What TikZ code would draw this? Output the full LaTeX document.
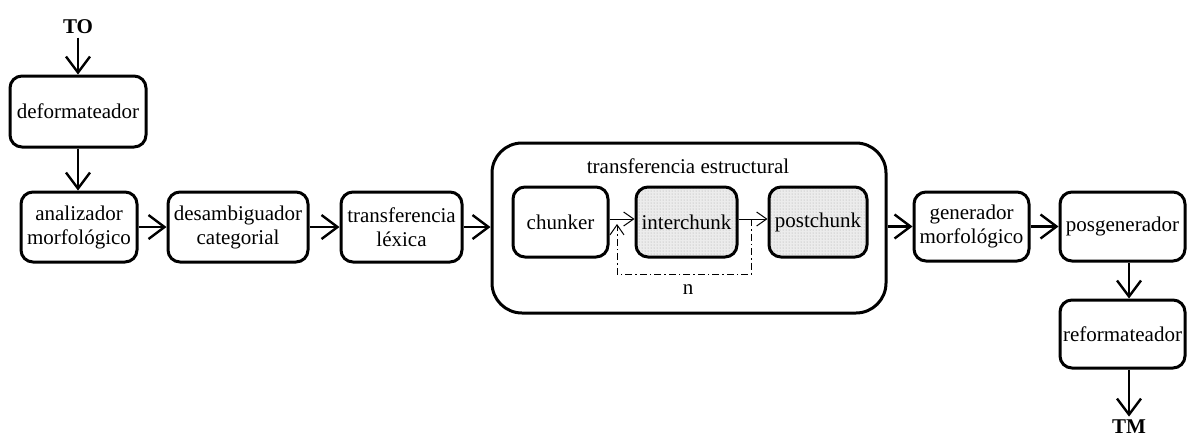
\documentclass[tikz,border=0pt]{standalone}
\usepackage{fontspec}
\setmainfont{Liberation Serif}
\usetikzlibrary{arrows.meta,positioning,patterns}

\begin{document}
\begin{tikzpicture}[
  x=1pt, y=-1pt,
  font=\fontsize{21}{24}\selectfont,
  stage/.style={draw, line width=3pt, rounded corners=12pt, align=center,
                inner sep=2pt, minimum height=70pt},
  shaded/.style={stage, preaction={fill=gray!15}, pattern=dots, pattern color=gray!70},
  arr/.style={-{Straight Barb[length=16pt,width=24pt]}, line width=2.4pt},
  flow/.style={-{Straight Barb[length=10pt,width=14pt]}, line width=1pt},
]
\useasboundingbox (0,0) rectangle (1190,437);

\node[font=\fontsize{21}{24}\selectfont\bfseries] (to) at (78,27) {TO};
\node[stage, minimum width=136pt, minimum height=71pt] (deform) at (78,111.5) {deformateador};
\node[stage, minimum width=116pt] (anal) at (79,227) {analizador\\morfológico};
\node[stage, minimum width=140pt] (desamb) at (238,227) {desambiguador\\categorial};
\node[stage, minimum width=121pt] (lex) at (401.5,227) {transferencia\\léxica};

% structural transfer block
\node[stage, rounded corners=30pt, minimum width=394pt, minimum height=170pt] (estruct) at (689,228) {};
\node (titulo) at (688,166) {transferencia estructural};
\node[stage, minimum width=95pt] (chunker) at (560.5,222) {chunker};
\node[shaded, minimum width=101pt] (inter) at (686.5,222) {interchunk};
\node[shaded, minimum width=98pt] (post) at (818,222) {postchunk};
\node (n) at (688,290) {n};

\node[stage, minimum width=115pt, minimum height=69pt] (gen) at (971.5,226.5) {generador\\morfológico};
\node[stage, minimum width=125pt, minimum height=69pt] (posgen) at (1122.5,226.5) {posgenerador};
\node[stage, minimum width=125pt, minimum height=68pt] (reform) at (1122.5,334) {reformateador};
\node[font=\fontsize{21}{24}\selectfont\bfseries] (tm) at (1129,427) {TM};

\draw[arr] (to) -- (deform.north -| to);
\draw[arr] (deform) -- (deform.south |- anal.north);
\draw[arr] (anal) -- (desamb);
\draw[arr] (desamb) -- (lex);
\draw[arr] (lex) -- (lex.east -| estruct.west);
\draw[arr] (estruct.east |- gen) -- (gen);
\draw[arr] (gen) -- (posgen);
\draw[arr] (posgen.south -| tm) -- (reform.north -| tm);
\draw[arr] (reform.south -| tm) -- (tm);

\draw[flow] ([yshift=3pt]chunker.east) -- ([yshift=3pt]inter.west);
\draw[flow] ([yshift=3pt]inter.east) -- ([yshift=3pt]post.west);
% n iterations of interchunk
\coordinate (salida) at (751,219);
\coordinate (entrada) at (617,224);
\draw[flow, dash pattern=on 7pt off 3pt on 1.5pt off 3pt] (salida) -- (751,274) -| (entrada);
\end{tikzpicture}
\end{document}
